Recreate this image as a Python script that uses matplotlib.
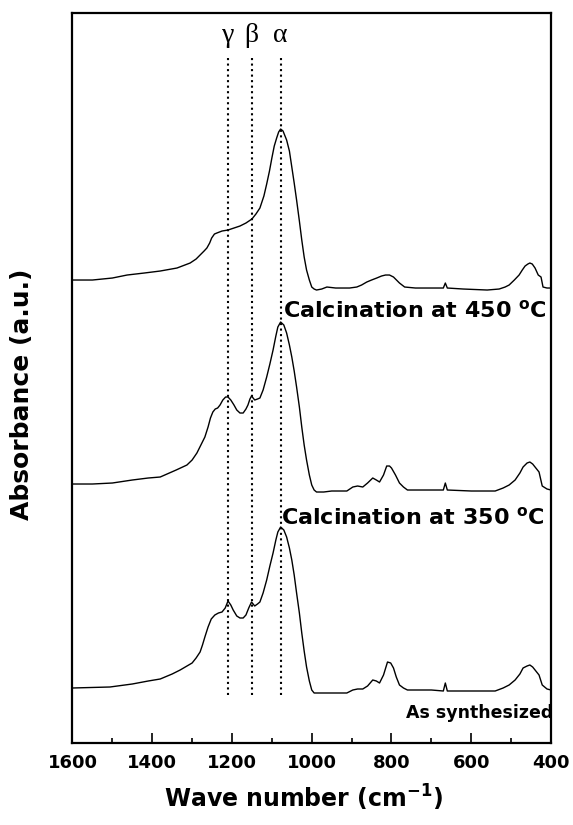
import numpy as np
from matplotlib import pyplot as plt
from matplotlib.ticker import MultipleLocator

# wavenumbers (cm-1) and absorbance (a.u., stacked offsets included)
wn_450 = [1600, 1550, 1500, 1463, 1420, 1380, 1338, 1305, 1290, 1280, 1270, 1263, 1256,
          1251, 1244, 1238, 1225, 1210, 1195, 1180, 1165, 1150, 1140, 1130, 1120, 1113,
          1106, 1100, 1094, 1088, 1083, 1078, 1072, 1068, 1063, 1056, 1050, 1044, 1038,
          1031, 1025, 1019, 1013, 1006, 1000, 994, 988, 975, 962, 940, 922, 905, 887, 875,
          862, 850, 837, 825, 815, 805, 795, 780, 767, 740, 700, 670, 665, 660, 620,
          560, 530, 515, 505, 492, 480, 472, 465, 458, 453, 447, 440, 432, 425, 420, 410, 400]
ab_450 = [463, 463, 465, 468, 470, 472, 475, 480, 484, 488, 492, 495, 500,
          505, 509, 510, 512, 513, 515, 517, 520, 524, 529, 535, 547, 559,
          572, 585, 597, 605, 611, 614, 612, 608, 603, 592, 576, 560, 543,
          522, 503, 486, 473, 463, 456, 454, 453, 454, 456, 455, 455, 455, 456, 458,
          461, 463, 465, 467, 468, 468, 466, 460, 456, 455, 455, 455, 460, 455, 454,
          453, 454, 456, 458, 463, 468, 473, 477, 479, 480, 479, 475, 468, 466, 456, 455, 455]

wn_350 = [1600, 1550, 1500, 1450, 1410, 1380, 1340, 1313, 1300, 1288, 1278, 1268, 1260,
          1254, 1248, 1242, 1236, 1230, 1223, 1216, 1210, 1203, 1195, 1188, 1180, 1172,
          1165, 1160, 1155, 1151, 1147, 1143, 1136, 1130, 1122, 1113, 1105, 1097, 1090,
          1085, 1078, 1070, 1063, 1056, 1050, 1044, 1038, 1031, 1025, 1019, 1013, 1006,
          1000, 994, 988, 970, 950, 930, 912, 897, 885, 872, 860, 847, 838, 830, 820, 812,
          805, 800, 790, 780, 770, 760, 700, 670, 665, 660, 600, 540, 520, 505, 490, 478,
          470, 460, 453, 446, 440, 430, 422, 410, 400]
ab_350 = [259, 259, 260, 263, 265, 266, 273, 278, 283, 290, 298, 306, 316,
          325, 331, 334, 335, 338, 343, 346, 346, 343, 338, 333, 330, 330,
          334, 338, 344, 347, 345, 343, 344, 345, 353, 366, 379, 393, 407,
          416, 421, 418, 410, 398, 386, 372, 356, 336, 316, 298, 283, 268,
          258, 253, 251, 251, 252, 252, 252, 256, 257, 256, 260, 265, 263, 261, 268, 277,
          277, 275, 268, 260, 256, 253, 253, 253, 260, 253, 252, 252, 255, 258, 263, 270,
          276, 280, 281, 279, 276, 271, 257, 254, 253]

wn_as = [1600, 1506, 1450, 1410, 1380, 1350, 1330, 1300, 1290, 1280, 1274, 1268, 1260,
         1252, 1243, 1234, 1225, 1217, 1210, 1203, 1197, 1188, 1180, 1172, 1165, 1158,
         1151, 1147, 1143, 1136, 1130, 1122, 1113, 1105, 1097, 1090, 1085, 1078, 1070,
         1063, 1056, 1050, 1044, 1038, 1031, 1025, 1019, 1013, 1006, 1000, 994, 988, 950,
         912, 897, 885, 872, 860, 847, 838, 830, 820, 810, 802, 795, 788, 780, 770, 760,
         700, 670, 665, 660, 600, 540, 520, 505, 490, 478, 470, 460, 453, 446, 440, 430,
         422, 410, 400]
ab_as = [55, 56, 59, 62, 64, 69, 73, 80, 85, 91, 98, 106, 116,
         124, 128, 130, 131, 135, 142, 138, 133, 127, 125, 125, 128, 135,
         141, 139, 137, 139, 141, 150, 163, 177, 190, 203, 211, 216, 213,
         206, 195, 183, 168, 150, 130, 110, 92, 76, 62, 53, 50, 50, 50,
         50, 53, 54, 54, 57, 63, 62, 60, 68, 81, 80, 75, 66, 58, 55, 53,
         53, 52, 60, 52, 52, 52, 55, 58, 63, 69, 75, 77, 78, 76, 73, 68,
         58, 54, 53]

band_pos = [1210, 1151, 1078]
band_names = ['\u03b3', '\u03b2', '\u03b1']

fig = plt.figure(figsize=(5.73, 8.25), dpi=100)
ax = fig.add_axes([0.1265, 0.0994, 0.8351, 0.8848])

ax.plot(wn_450, ab_450, 'k-', lw=1.0)
ax.plot(wn_350, ab_350, 'k-', lw=1.0)
ax.plot(wn_as, ab_as, 'k-', lw=1.0)

for x, name in zip(band_pos, band_names):
    ax.plot([x, x], [48, 688], 'k:', lw=1.5)
    ax.text(x, 708, name, ha='center', va='center', fontsize=20,
            family='Liberation Serif')

ax.text(1072, 426, 'Calcination at 450 $^{\\mathregular{o}}$C', fontsize=16,
        fontweight='bold', va='baseline')
ax.text(1077, 219, 'Calcination at 350 $^{\\mathregular{o}}$C', fontsize=16,
        fontweight='bold', va='baseline')
ax.text(763, 25, 'As synthesized', fontsize=12.5, fontweight='bold', va='baseline')

ax.set_xlim(1600, 400)
ax.set_ylim(0, 730)
ax.xaxis.set_major_locator(MultipleLocator(200))
ax.xaxis.set_minor_locator(MultipleLocator(100))
ax.tick_params(axis='x', which='both', direction='in', top=False, labelsize=13)
ax.tick_params(axis='x', which='major', length=7, width=1.2, pad=8)
ax.tick_params(axis='x', which='minor', length=3.5, width=1.2)
ax.set_yticks([])
for lab in ax.get_xticklabels():
    lab.set_fontweight('bold')
for s in ax.spines.values():
    s.set_linewidth(1.6)

ax.set_xlabel('Wave number (cm$^{\\mathregular{-1}}$)', fontsize=17, fontweight='bold')
ax.xaxis.set_label_coords(0.483, -0.055)
ax.set_ylabel('Absorbance (a.u.)', fontsize=18, fontweight='bold')
ax.yaxis.set_label_coords(-0.08, 0.477)

fig.savefig('out.png', dpi=100)
